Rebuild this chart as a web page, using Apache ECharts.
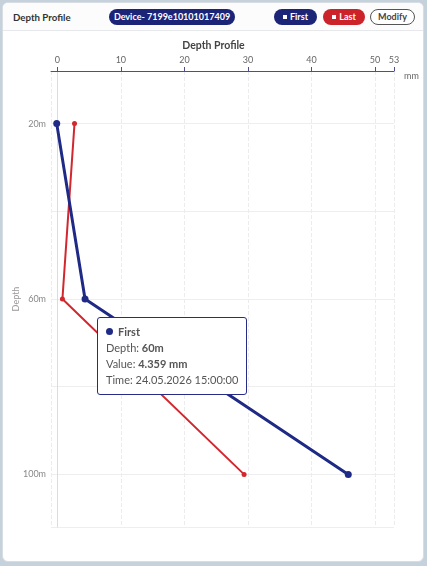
<!DOCTYPE html>
<html>
<head>
<meta charset="utf-8">
<script src="https://cdn.jsdelivr.net/npm/echarts@6/dist/echarts.min.js"></script>
<style>
  html, body { margin: 0; padding: 0; width: 427px; height: 566px; background: #c5d1db; font-family: Lato, "Noto Sans", sans-serif; overflow: hidden; }
  .card { position: absolute; left: 2px; top: 2px; width: 420px; height: 558px; background: #fff; border: 1px solid #d8dde3; border-radius: 6px; overflow: hidden; }
  .head { position: absolute; left: 0; top: 0; width: 100%; height: 27px; border-bottom: 1px solid #e6e8ec; background: #fcfcfd; }
  .title { position: absolute; left: 10px; top: 8px; font-size: 9.7px; font-weight: 700; color: #333; }
  .pill { position: absolute; top: 6px; height: 16px; line-height: 16px; border-radius: 8px; font-size: 9px; font-weight: 700; text-align: center; color: #fff; }
  .dev { left: 106px; width: 126px; background: #1c2478; }
  .first { left: 271px; width: 43px; background: #1c2478; }
  .last { left: 320px; width: 42px; background: #cc2229; }
  .mod { left: 367px; width: 43px; height: 14px; line-height: 14px; background: #fff; color: #444; border: 1px solid #555; }
  .sq { display: inline-block; width: 4px; height: 4px; background: #fff; margin-right: 3px; vertical-align: 1px; }
  #chart { position: absolute; left: 0; top: 30px; width: 427px; height: 532px; }
</style>
</head>
<body>
<div class="card">
  <div class="head">
    <div class="title">Depth Profile</div>
    <div class="pill dev">Device- 7199e10101017409</div>
    <div class="pill first"><span class="sq"></span>First</div>
    <div class="pill last"><span class="sq"></span>Last</div>
    <div class="pill mod">Modify</div>
  </div>
</div>
<div id="chart"></div>
<script>
// depths (m) and displacement values (mm)
const depths = [20, 60, 100]
const firstValues = [-0.1, 4.359, 45.8]
const lastValues = [2.7, 0.8, 29.4]
const seriesNames = ['First', 'Last']
const seriesTimes = ['24.05.2026 15:00:00', '24.05.2026 15:00:00']
const xTicks = [0, 10, 20, 30, 40, 50, 53]
const xSplits = [-1, 10, 20, 30, 40, 50, 53]
const yLabels = [20, 60, 100]
const yTicks = [20, 40, 60, 80, 100, 112]

const toPairs = (vals) => vals.map((v, i) => [v, depths[i]])
const FONT = 'Lato, "Noto Sans", sans-serif'

const chart = echarts.init(document.getElementById('chart'))
chart.setOption({
  animation: false,
  textStyle: { fontFamily: FONT },
  title: {
    text: 'Depth Profile',
    left: 'center',
    top: 5,
    textStyle: { fontSize: 10.5, fontWeight: 'bold', color: '#444', fontFamily: FONT },
  },
  tooltip: {
    trigger: 'item',
    transitionDuration: 0,
    padding: [6, 8],
    borderColor: '#272d86',
    borderWidth: 1,
    backgroundColor: '#fff',
    extraCssText: 'border-radius:3px;box-shadow:none;line-height:16px;',
    textStyle: { fontSize: 11, color: '#555', fontFamily: FONT },
    position: (pt) => [pt[0] + 12, pt[1] + 18],
    formatter: (p) => {
      const dot = '<span style="display:inline-block;width:7px;height:7px;border-radius:50%;background:' + p.color + ';margin-right:5px;vertical-align:1px"></span>'
      return dot + '<b>' + p.seriesName + '</b><br>' +
        'Depth: <b>' + p.value[1] + 'm</b><br>' +
        'Value: <b>' + p.value[0] + ' mm</b><br>' +
        'Time: ' + seriesTimes[p.seriesIndex]
    },
  },
  grid: { left: 51, right: 33, top: 41, bottom: 35, outerBoundsMode: 'none' },
  xAxis: [
    {
      type: 'value',
      position: 'top',
      min: -1,
      max: 53,
      name: 'mm',
      nameLocation: 'end',
      nameGap: 10,
      nameTextStyle: { fontSize: 9, color: '#666', verticalAlign: 'top', padding: [1, 0, 0, 0] },
      axisLine: { show: true, onZero: false, lineStyle: { color: '#4b5089', width: 1 } },
      axisTick: { show: true, length: 4, customValues: xTicks, lineStyle: { color: '#4b5089' } },
      axisLabel: { fontSize: 9, color: '#666', margin: 6, customValues: xTicks },
      splitLine: { show: false },
    },
    {
      // only carries the dashed vertical grid lines
      type: 'value',
      position: 'top',
      min: -1,
      max: 53,
      axisLine: { show: false },
      axisTick: { show: false, customValues: xSplits },
      axisLabel: { show: false },
      splitLine: { show: true, lineStyle: { color: '#ececec', type: 'dashed' } },
    },
  ],
  yAxis: {
    type: 'value',
    inverse: true,
    min: 8,
    max: 112,
    name: 'Depth',
    nameLocation: 'middle',
    nameGap: 30,
    nameMoveOverlap: false,
    nameTextStyle: { fontSize: 9, color: '#999' },
    axisLine: { show: true, onZero: true, onZeroAxisIndex: 0, lineStyle: { color: '#dcdcdc' } },
    axisTick: { show: false, customValues: yTicks },
    axisLabel: { fontSize: 9, color: '#888', margin: 5, customValues: yLabels, formatter: (v) => v + 'm' },
    splitLine: { show: true, lineStyle: { color: '#eeeeee' } },
  },
  series: [
    {
      name: seriesNames[0],
      type: 'line',
      data: toPairs(firstValues),
      color: '#1f2a86',
      symbol: 'circle',
      symbolSize: 7,
      lineStyle: { width: 3 },
      z: 3,
    },
    {
      name: seriesNames[1],
      type: 'line',
      data: toPairs(lastValues),
      color: '#d2272e',
      symbol: 'circle',
      symbolSize: 5,
      lineStyle: { width: 2 },
      z: 2,
    },
  ],
})
chart.dispatchAction({ type: 'showTip', seriesIndex: 0, dataIndex: 1 })
</script>
</body>
</html>
